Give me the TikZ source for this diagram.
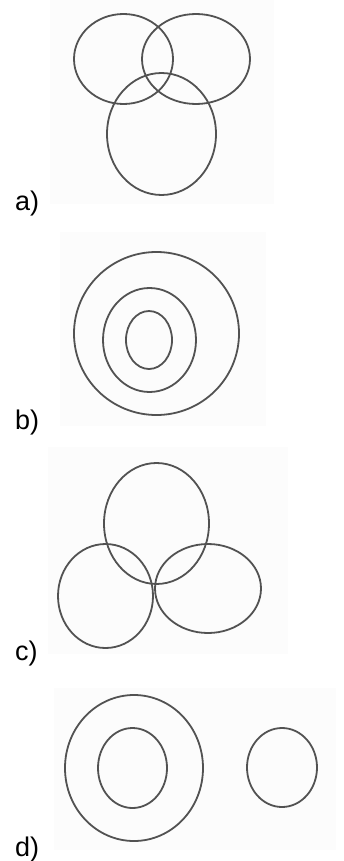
\documentclass[tikz,border=0pt]{standalone}
\usepackage{fontspec}
\setmainfont{Liberation Sans}
\usepackage{tikz}

\begin{document}
\begin{tikzpicture}[
    x=1pt,y=-1pt,
    ring/.style={draw=black!68,line width=1.8pt},
    panel/.style={fill=black!1.2,draw=none},
    tag/.style={anchor=base west,inner sep=0pt,font=\fontsize{27}{32}\selectfont}
]
\useasboundingbox (0,0) rectangle (344,861);
% faint picture backgrounds
\fill[panel] (50,0) rectangle (274,204);
\fill[panel] (60,232) rectangle (266,426);
\fill[panel] (48,447) rectangle (288,654);
\fill[panel] (54,688) rectangle (336,850);
% a) three overlapping circles
\draw[ring] (123.5,59) ellipse [x radius=49.5pt,y radius=45pt];
\draw[ring] (196,59) ellipse [x radius=54pt,y radius=45pt];
\draw[ring] (161.5,134) ellipse [x radius=54.5pt,y radius=61pt];
\node[tag] (tagA) at (15,210) {a)};
% b) nested circles
\draw[ring] (156.5,333.5) ellipse [x radius=82.5pt,y radius=81.5pt];
\draw[ring] (149.5,340) ellipse [x radius=46.5pt,y radius=52pt];
\draw[ring] (149,340) ellipse [x radius=23pt,y radius=29pt];
\node[tag] (tagB) at (15,429) {b)};
% c) one on top of two
\draw[ring] (156.5,523.5) ellipse [x radius=52.5pt,y radius=60.5pt];
\draw[ring] (105.5,596) ellipse [x radius=47.5pt,y radius=52pt];
\draw[ring] (208,588.5) ellipse [x radius=53pt,y radius=44.5pt];
\node[tag] (tagC) at (15,660) {c)};
% d) ring and a separate circle
\draw[ring] (134,768) ellipse [x radius=69pt,y radius=73pt];
\draw[ring] (132.5,768) ellipse [x radius=34.5pt,y radius=40pt];
\draw[ring] (282,767.5) ellipse [x radius=35pt,y radius=39.5pt];
\node[tag] (tagD) at (15,856) {d)};
\end{tikzpicture}
\end{document}
